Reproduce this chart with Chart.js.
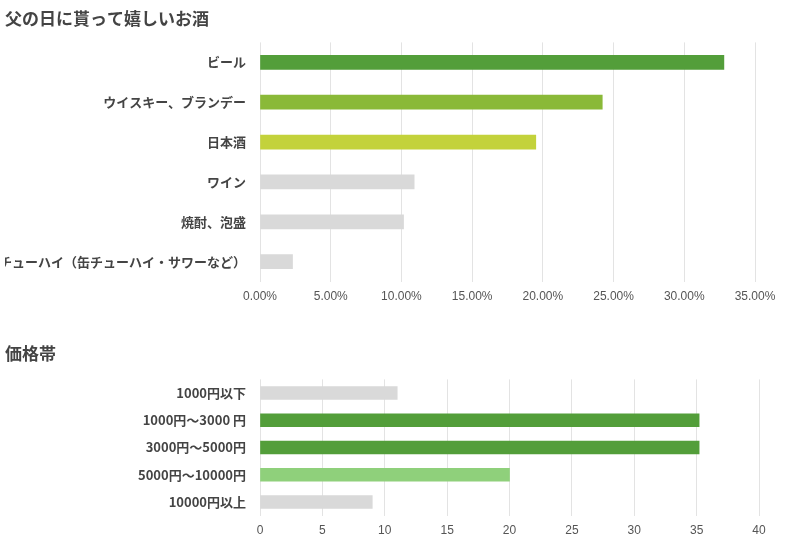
<!DOCTYPE html>
<html><head><meta charset="utf-8">
<script src="https://cdn.jsdelivr.net/npm/chart.js@4"></script>
<style>body{margin:0;background:#fff}#a{position:absolute;left:0;top:0}#b{position:absolute;left:0;top:335px}</style>
</head><body>
<div id="a" style="width:800px;height:330px"><canvas id="c1"></canvas></div>
<div id="b" style="width:800px;height:215px"><canvas id="c2"></canvas></div>
<script>
const cats1 = ["ビール","ウイスキー、ブランデー","日本酒","ワイン","焼酎、泡盛","チューハイ（缶チューハイ・サワーなど）"];
const vals1 = [32.8,24.2,19.5,10.9,10.15,2.3];
const cols1 = ["#539e3a","#8ab938","#c3d23b","#d9d9d9","#d9d9d9","#d9d9d9"];
const cats2 = ["1000円以下","1000円〜3000 円","3000円〜5000円","5000円〜10000円","10000円以上"];
const vals2 = [11,35.2,35.2,20,9];
const cols2 = ["#d9d9d9","#539e3a","#539e3a","#8fd07b","#d9d9d9"];
const thick2 = [13,17,17,13,13];
const F = "'Noto Sans CJK JP','Noto Sans',sans-serif";
function mk(id, title, cats, vals, cols, thick, max, step, fmt, ptop, pbot, pright){
  new Chart(document.getElementById(id), {
    type:'bar',
    data:{labels:cats, datasets:[{data:vals, backgroundColor:cols, barThickness:thick, categoryPercentage:1, barPercentage:1}]},
    options:{indexAxis:'y', responsive:true, maintainAspectRatio:false, animation:false,
      layout:{padding:{left:5,right:pright,top:0,bottom:pbot}},
      plugins:{legend:{display:false}, tooltip:{enabled:false},
        title:{display:true, text:title, align:'start', color:'#444', font:{family:F,size:17,weight:'bold'}, padding:{top:8,bottom:ptop}}},
      scales:{
        x:{min:0,max:max, ticks:{stepSize:step, callback:fmt, color:'#555', font:{family:'Liberation Sans,Arial',size:12}, padding:8},
           grid:{color:'#e3e3e3', drawTicks:false}, border:{display:false}},
        y:{ticks:{color:'#444', font:{family:F,size:13,weight:'bold'}, padding:6}, grid:{display:false}, border:{display:false},
           afterFit:s=>{s.width=255;}}
      }}
  });
}
mk('c1','父の日に貰って嬉しいお酒',cats1,vals1,cols1,14,35,5,v=>v.toFixed(2)+'%',14,18,45);
mk('c2','価格帯',cats2,vals2,cols2,thick2,40,5,v=>v,16,4,41);
</script></body></html>
